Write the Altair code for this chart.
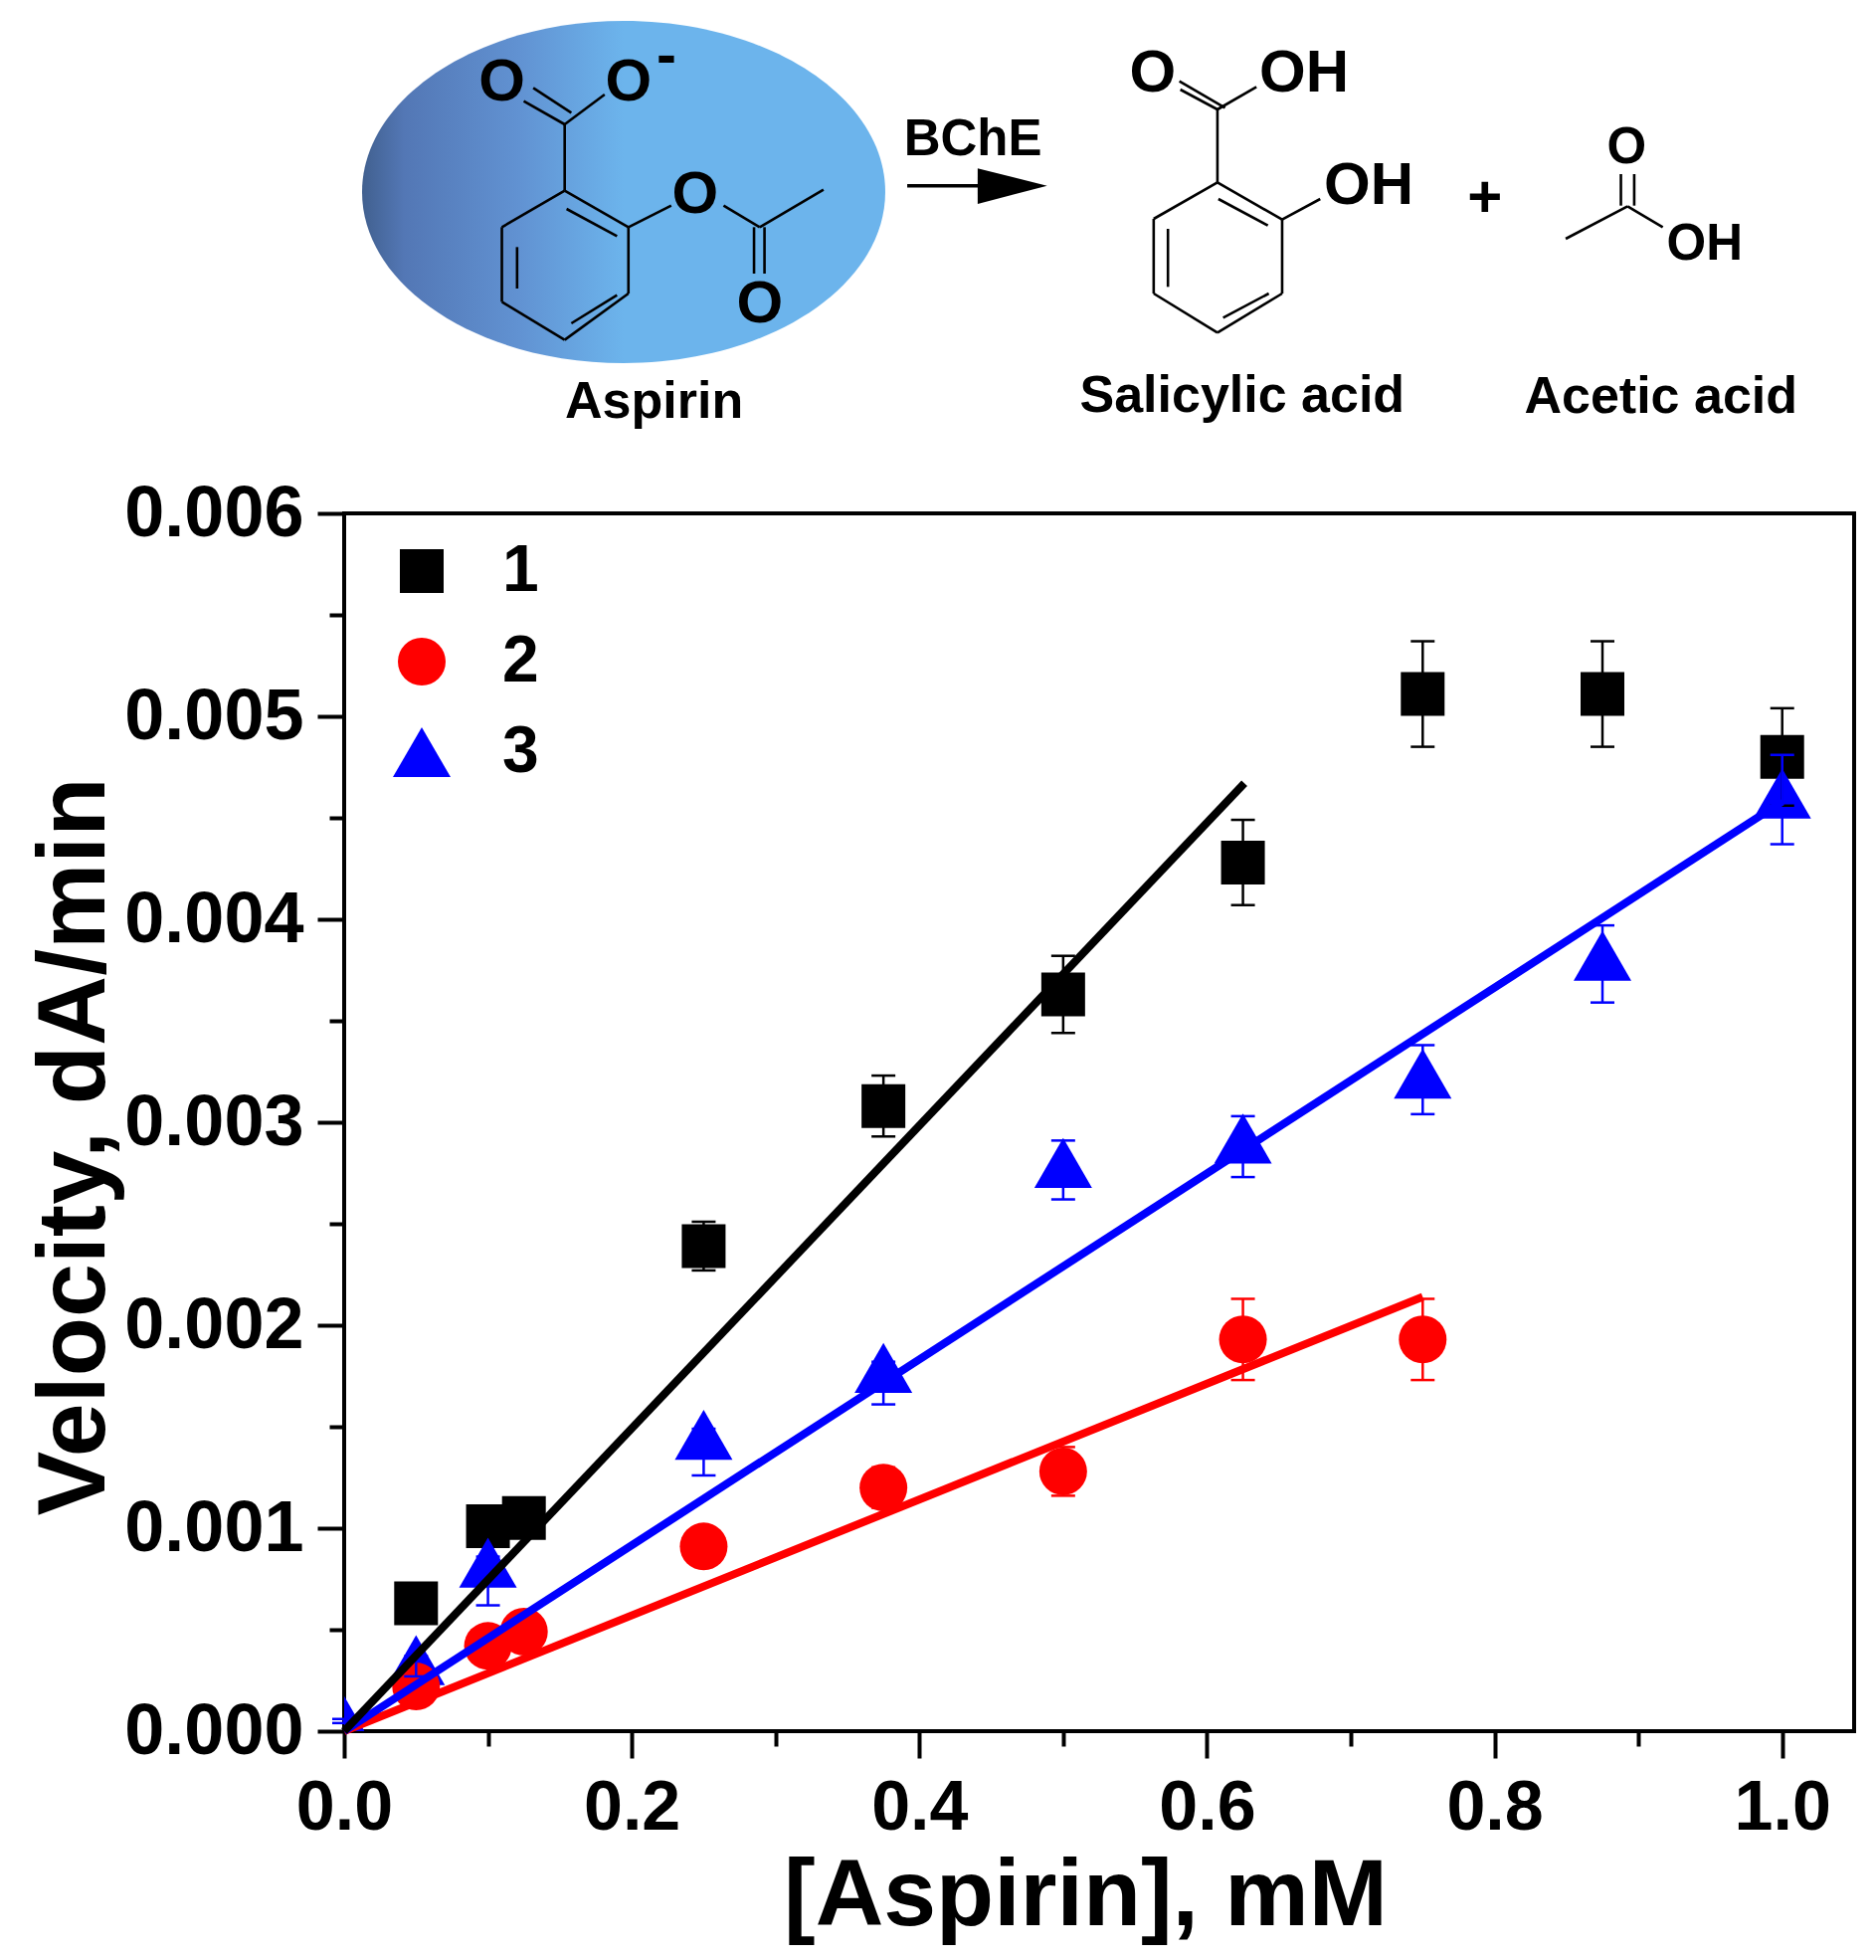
import altair as alt
import pandas as pd

# ---------- measured values ----------
x1 = [0.05, 0.1, 0.125, 0.25, 0.375, 0.5, 0.625, 0.75, 0.875, 1.0]
y1 = [0.00063, 0.00101, 0.00105, 0.00239, 0.00308, 0.00363, 0.00428, 0.00511, 0.00511, 0.00480]
e1 = [0.00003, 0.00005, 0.00005, 0.00012, 0.00015, 0.00019, 0.00021, 0.00026, 0.00026, 0.00024]

x2 = [0.05, 0.1, 0.125, 0.25, 0.375, 0.5, 0.625, 0.75]
y2 = [0.00022, 0.00042, 0.00049, 0.00091, 0.00120, 0.00128, 0.00193, 0.00193]
e2 = [0.00003, 0.00003, 0.00003, 0.00005, 0.00010, 0.00012, 0.00020, 0.00020]

x3 = [0.0, 0.05, 0.1, 0.25, 0.375, 0.5, 0.625, 0.75, 0.875, 1.0]
y3 = [0.00005, 0.00035, 0.00083, 0.00146, 0.00179, 0.00280, 0.00292, 0.00324, 0.00382, 0.00462]
e3 = [0.00001, 0.00008, 0.00021, 0.00020, 0.00018, 0.00018, 0.00019, 0.00020, 0.00023, 0.00025]
e3_up = [0.00001, 0.00002, 0.00003, 0.00003, 0.00003, 0.00011, 0.00011, 0.00014, 0.00015, 0.00019]

fit_names = ["1", "1", "2", "2", "3", "3"]
fit_x = [0.0, 0.626, 0.0, 0.75, 0.0, 1.0]
fit_y = [0.0, 0.00467, 0.0, 0.00214, 0.0, 0.00458]

series_names = ["1", "2", "3"]
series_colors = ["#000000", "#ff0000", "#0000ff"]
series_shapes = ["square", "circle", "triangle-up"]
series_sizes = [1936, 2304, 3364]

x_major = [0.0, 0.2, 0.4, 0.6, 0.8, 1.0]
x_minor = [0.1, 0.3, 0.5, 0.7, 0.9]
y_major = [0.0, 0.001, 0.002, 0.003, 0.004, 0.005, 0.006]
y_minor = [0.0005, 0.0015, 0.0025, 0.0035, 0.0045, 0.0055]

# ---------- reaction scheme (in its own 1568 x 1350 drawing units) ----------
bond_x1 = [238, 305, 305, 238, 172, 172, 240, 188, 245, 238, 238, 205, 238,
           305, 405, 443, 437, 448,
           924, 992, 992, 924, 857, 857, 925, 872, 930, 924, 924, 884, 924, 992,
           1348, 1362, 1355, 1355]
bond_y1 = [575, 685, 885, 1025, 910, 685, 630, 745, 975, 575, 375, 265, 375,
           685, 620, 685, 685, 685,
           550, 662, 885, 1003, 885, 660, 600, 690, 958, 550, 330, 245, 330, 662,
           525, 525, 622, 622]
bond_x2 = [305, 305, 238, 172, 172, 238, 293, 188, 293, 238, 195, 245, 280,
           350, 443, 510, 437, 448,
           992, 992, 924, 857, 857, 924, 977, 872, 978, 924, 885, 932, 965, 1032,
           1348, 1362, 1290, 1392]
bond_y2 = [685, 885, 1025, 910, 685, 575, 712, 870, 890, 375, 305, 340, 285,
           620, 685, 572, 825, 825,
           662, 885, 1003, 885, 660, 550, 680, 865, 885, 330, 270, 325, 262, 600,
           620, 620, 720, 685]

atom_text = ["O", "O", "-", "O", "O", "O", "OH", "OH", "+"]
atom_x = [172, 305, 345, 375, 443, 856, 1015, 1083, 1205]
atom_y = [250, 250, 172, 588, 918, 221, 221, 562, 600]

small_atom_text = ["O", "OH"]
small_atom_x = [1354, 1436]
small_atom_y = [446, 738]

label_text = ["Aspirin", "Salicylic acid", "Acetic acid"]
label_x = [332, 950, 1390]
label_y = [1213, 1195, 1198]
enzyme_text = ["BChE"]
enzyme_x = [667]
enzyme_y = [422]

arrow_x = [672, 745]
arrow_top = [508, 560]
arrow_bottom = [615, 560]
arrow_line_x = [598]
arrow_line_x2 = [680]
arrow_line_y = [560]

ellipse_x = [300]
ellipse_y = [579]

# ---------- layout ----------
PLOT_X0, PLOT_Y0 = 346, 516
W, H = 1518, 1224
FONT = "Liberation Sans"

xs = alt.Scale(domain=[0, 1.05], nice=False, zero=False)
ys = alt.Scale(domain=[0, 0.006], nice=False, zero=False)
sx = alt.Scale(domain=[0, 1568], range=[340 - PLOT_X0, 1840 - PLOT_X0], nice=False, zero=False)
sy = alt.Scale(domain=[0, 1350], range=[0 - PLOT_Y0, 450 - PLOT_Y0], nice=False, zero=False)

points = pd.DataFrame(
    [("1", a, b, c, c) for a, b, c in zip(x1, y1, e1)]
    + [("3", a, b, c, u) for a, b, c, u in zip(x3, y3, e3, e3_up)]
    + [("2", a, b, c, c) for a, b, c in zip(x2, y2, e2)],
    columns=["series", "x", "y", "e", "u"],
)
points["lo"] = points.y - points.e
points["hi"] = points.y + points.u
fits = pd.DataFrame({"series": fit_names, "x": fit_x, "y": fit_y})


def plain_x(field="x"):
    return alt.X(f"{field}:Q", scale=xs, axis=None)


def plain_y(field="y"):
    return alt.Y(f"{field}:Q", scale=ys, axis=None)


def axis_layer(xvals, yvals, tick_x, tick_y, labels):
    common = dict(domain=False, tickColor="black", tickWidth=4, grid=False)
    if labels:
        common.update(
            labelFont=FONT, labelFontWeight="bold", labelColor="black",
            labelOverlap=False, labelFlush=False, labelLimit=500, titleLimit=1200,
            titleFont=FONT, titleFontWeight="bold", titleColor="black",
        )
    ax = alt.Axis(
        orient="bottom", values=xvals, tickSize=tick_x, labels=labels,
        title="[Aspirin], mM" if labels else None,
        **({"format": ".1f", "labelFontSize": 70, "titleFontSize": 95, "labelPadding": 16,
            "titlePadding": 7, "titleX": 745} if labels else {}),
        **common,
    )
    ay = alt.Axis(
        orient="left", values=yvals, tickSize=tick_y, labels=labels,
        title="Velocity, dA/min" if labels else None,
        **({"format": ".3f", "labelFontSize": 72, "titleFontSize": 97, "labelPadding": 14,
            "titlePadding": 22, "titleY": 636} if labels else {}),
        **common,
    )
    return alt.Chart(pd.DataFrame({"x": [0.0], "y": [0.0]})).mark_point(opacity=0).encode(
        x=alt.X("x:Q", scale=xs, axis=ax),
        y=alt.Y("y:Q", scale=ys, axis=ay),
    )


legend = alt.Legend(
    orient="none", legendX=45, legendY=25, title=None,
    labelFont=FONT, labelFontWeight="bold", labelFontSize=66, labelColor="black",
    labelOffset=48, rowPadding=25, symbolStrokeWidth=0, padding=0,
)
color = alt.Color("series:N", scale=alt.Scale(domain=series_names, range=series_colors), legend=legend)
shape = alt.Shape("series:N", scale=alt.Scale(domain=series_names, range=series_shapes), legend=legend)
size = alt.Size("series:N", scale=alt.Scale(type="ordinal", domain=series_names, range=series_sizes), legend=legend)

pts = alt.Chart(points).mark_point(filled=True, opacity=1, clip=True).encode(
    x=plain_x(), y=plain_y(), color=color, shape=shape, size=size
)
err_col = alt.Color("series:N", scale=alt.Scale(domain=series_names, range=series_colors), legend=None)
err_rule = alt.Chart(points).mark_rule(strokeWidth=2.5).encode(
    x=plain_x(), y=plain_y("lo"), y2="hi:Q", color=err_col
)
err_low = alt.Chart(points).mark_tick(orient="horizontal", size=24, thickness=2.5, opacity=1).encode(
    x=plain_x(), y=plain_y("lo"), color=err_col
)
err_high = alt.Chart(points).mark_tick(orient="horizontal", size=24, thickness=2.5, opacity=1).encode(
    x=plain_x(), y=plain_y("hi"), color=err_col
)
fit_layers = [
    alt.Chart(fits[fits.series == s]).mark_line(strokeWidth=8, color=c, clip=False).encode(
        x=plain_x(), y=plain_y()
    )
    for s, c in (("2", "#ff0000"), ("3", "#0000ff"), ("1", "#000000"))
]

# ---------- scheme marks ----------
def px(f):
    return alt.X(f"{f}:Q", scale=sx, axis=None)


def py(f):
    return alt.Y(f"{f}:Q", scale=sy, axis=None)


ellipse = alt.Chart(pd.DataFrame({"x": ellipse_x, "y": ellipse_y})).mark_point(
    filled=True, opacity=1, strokeWidth=0, size=276676,
    shape="M-1,0 A1,0.654 0 1 1 1,0 A1,0.654 0 1 1 -1,0 Z",
    fill=alt.Gradient(
        gradient="linear", x1=0, x2=1, y1=0, y2=0,
        stops=[
            alt.GradientStop(offset=0.0, color="#41608f"),
            alt.GradientStop(offset=0.08, color="#5377b5"),
            alt.GradientStop(offset=0.3, color="#6192d2"),
            alt.GradientStop(offset=0.5, color="#6cb4ec"),
            alt.GradientStop(offset=1.0, color="#6cb4ec"),
        ],
    ),
).encode(x=px("x"), y=py("y"))

bonds = alt.Chart(pd.DataFrame({"a": bond_x1, "b": bond_y1, "c": bond_x2, "d": bond_y2})).mark_rule(
    strokeWidth=2.6, color="black"
).encode(x=px("a"), y=py("b"), x2="c:Q", y2="d:Q")

atoms = alt.Chart(pd.DataFrame({"t": atom_text, "x": atom_x, "y": atom_y})).mark_text(
    font=FONT, fontWeight="bold", fontSize=60, color="black", baseline="middle", align="center"
).encode(x=px("x"), y=py("y"), text="t:N")

small_atoms = alt.Chart(pd.DataFrame({"t": small_atom_text, "x": small_atom_x, "y": small_atom_y})).mark_text(
    font=FONT, fontWeight="bold", fontSize=51, color="black", baseline="middle", align="center"
).encode(x=px("x"), y=py("y"), text="t:N")

labels = alt.Chart(pd.DataFrame({"t": label_text, "x": label_x, "y": label_y})).mark_text(
    font=FONT, fontWeight="bold", fontSize=52, color="black", baseline="middle", align="center"
).encode(x=px("x"), y=py("y"), text="t:N")

enzyme = alt.Chart(pd.DataFrame({"t": enzyme_text, "x": enzyme_x, "y": enzyme_y})).mark_text(
    font=FONT, fontWeight="bold", fontSize=51, color="black", baseline="middle", align="center"
).encode(x=px("x"), y=py("y"), text="t:N")

arrow_head = alt.Chart(pd.DataFrame({"x": arrow_x, "a": arrow_top, "b": arrow_bottom})).mark_area(
    color="black", opacity=1
).encode(x=px("x"), y=py("a"), y2="b:Q")
arrow_shaft = alt.Chart(pd.DataFrame({"a": arrow_line_x, "c": arrow_line_x2, "y": arrow_line_y})).mark_rule(
    strokeWidth=3.5, color="black"
).encode(x=px("a"), x2="c:Q", y=py("y"))

chart = alt.layer(
    axis_layer(x_minor, y_minor, 15, 15, False),
    axis_layer(x_major, y_major, 27, 27, True),
    pts, err_rule, err_low, err_high, *fit_layers,
    ellipse, bonds, arrow_shaft, arrow_head, atoms, small_atoms, labels, enzyme,
).resolve_scale(x="independent", y="independent").properties(
    width=W,
    height=H,
    autosize=alt.AutoSizeParams(type="none"),
    padding={"left": PLOT_X0 - 8, "top": PLOT_Y0 - 8, "right": 14, "bottom": 222},
    background="white",
).configure_view(stroke="black", strokeWidth=4)

chart.save("out.html", embed_options={"renderer": "svg", "actions": False})
